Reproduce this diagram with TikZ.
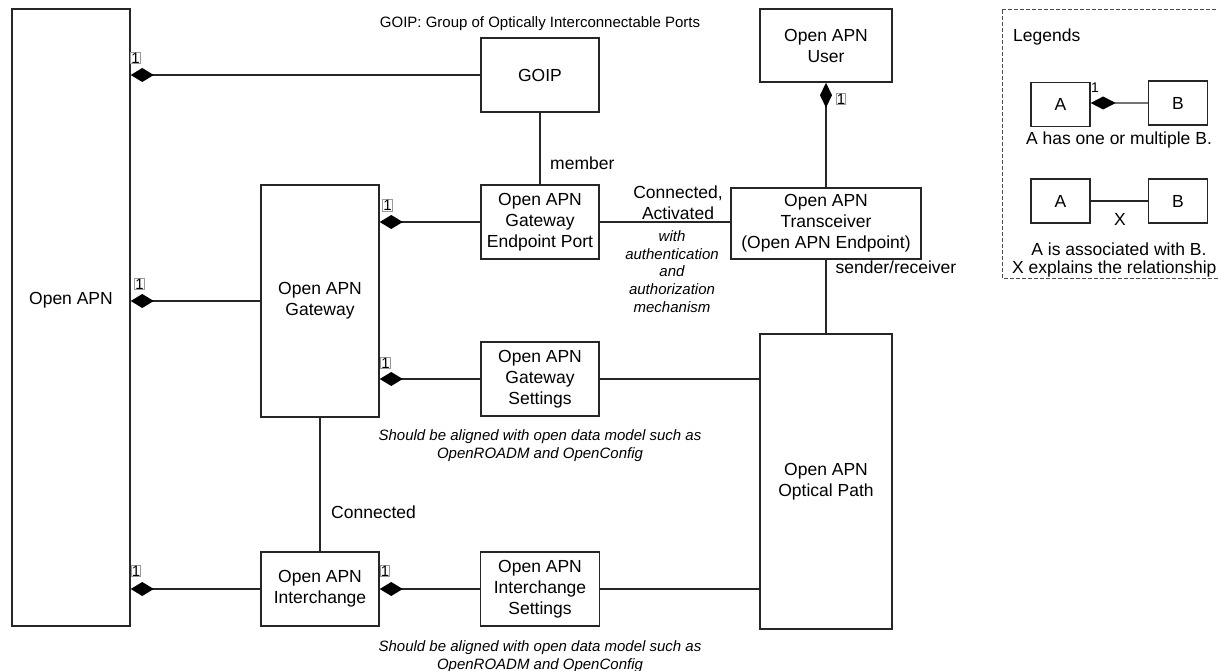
\documentclass[tikz,border=0pt]{standalone}
\usepackage{fontspec}
\setmainfont{Liberation Sans}
\usetikzlibrary{arrows.meta}
\newcommand\mainfnt{\fontsize{17.5}{21}\selectfont}
\newcommand\notefnt{\fontsize{15}{17.5}\selectfont\itshape}
\newcommand\titlefnt{\fontsize{15}{17.5}\selectfont}
\begin{document}
\begin{tikzpicture}[x=1pt,y=-1pt,
  box/.style={draw=black!85, line width=1.5pt, fill=white, align=center, inner sep=0pt, font=\mainfnt},
  conn/.style={draw=black!85, line width=1.6pt},
  comp/.style={conn, {Diamond[length=23pt,width=14pt,fill=black,color=black]}-},
  compv/.style={conn, {Diamond[length=25pt,width=12pt,fill=black,color=black]}-},
  mult/.style={draw=black!40, line width=0.6pt, fill=white, inner sep=0.6pt, font=\fontsize{15}{15}\selectfont},
  lbl/.style={font=\mainfnt, align=center, inner sep=0pt},
  note/.style={font=\notefnt, align=center, inner sep=0pt},
  legbox/.style={draw=black!85, line width=1.3pt, fill=white, font=\mainfnt, inner sep=0pt, minimum width=59pt, minimum height=44pt},
]
\useasboundingbox (0,0) rectangle (1218,671);
\clip (0,0) rectangle (1218,671);
\fill[white] (0,0) rectangle (1218,671);

% main boxes
\node[box, minimum width=118pt, minimum height=617pt] (open) at (71,317.5) {};
\node[lbl] (opentxt) at (71,300) {Open APN};
\node[box, minimum width=118pt, minimum height=74pt] (goip) at (540,75) {GOIP};
\node[box, minimum width=118pt, minimum height=74pt] (gep) at (540,222) {Open APN\\Gateway\\Endpoint Port};
\node[box, minimum width=118pt, minimum height=232pt] (gw) at (320,301) {Open APN\\Gateway};
\node[box, minimum width=118pt, minimum height=74pt] (gws) at (540,379) {Open APN\\Gateway\\Settings};
\node[box, minimum width=118pt, minimum height=74pt] (ic) at (320,589) {Open APN\\Interchange};
\node[box, minimum width=119pt, minimum height=74pt] (is) at (540,589) {Open APN\\Interchange\\Settings};
\node[box, minimum width=132pt, minimum height=73pt] (user) at (826,45.5) {Open APN\\User};
\node[box, minimum width=190pt, minimum height=71pt] (tr) at (826,223.5) {Open APN\\Transceiver\\(Open APN Endpoint)};
\node[box, minimum width=132pt, minimum height=295pt] (op) at (826,481.5) {Open APN\\Optical Path};

% connectors
\draw[comp] (open.east |- goip.west) -- (goip.west);
\draw[comp] (open.east |- gw.west) -- (gw.west);
\draw[comp] (open.east |- ic.west) -- (ic.west);
\draw[comp] (gw.east |- gep.west) -- (gep.west);
\draw[comp] (gw.east |- gws.west) -- (gws.west);
\draw[comp] (ic.east) -- (is.west);
\draw[compv] (user.south) -- (user.south |- tr.north);
\draw[conn] (goip.south) -- (gep.north);
\draw[conn] (gep.east) -- (gep.east -| tr.west);
\draw[conn] (tr.south) -- (tr.south |- op.north);
\draw[conn] (gws.east) -- (gws.east -| op.west);
\draw[conn] (is.east) -- (is.east -| op.west);
\draw[conn] (gw.south) -- (ic.north);

% multiplicities
\node[mult] (m1) at (135.5,58) {1};
\node[mult] (m2) at (139.5,284) {1};
\node[mult] (m3) at (387.5,205.5) {1};
\node[mult] (m4) at (385.5,363) {1};
\node[mult] (m5) at (136,571) {1};
\node[mult] (m6) at (385,571) {1};
\node[mult] (m7) at (841,99) {1};

% labels
\node[font=\titlefnt, inner sep=0pt] (title) at (540,24) {GOIP: Group of Optically Interconnectable Ports};
\node[lbl, anchor=west] (member) at (550,163) {member};
\node[lbl] (connact) at (678,202.5) {Connected,\\Activated};
\node[note, font=\fontsize{15}{17.8}\selectfont\itshape] (auth) at (672,271.5) {with\\authentication\\and\\authorization\\mechanism};
\node[lbl] (sr) at (896,267) {sender/receiver};
\node[lbl, anchor=west] (connected) at (331,512) {Connected};
\node[note] (note1) at (540,445.5) {Should be aligned with open data model such as\\OpenROADM and OpenConfig};
\node[note] (note2) at (540,656.5) {Should be aligned with open data model such as\\OpenROADM and OpenConfig};

% legend
\draw[black!70, line width=1pt, dash pattern=on 4pt off 2pt] (1002,10) rectangle (1240,278);
\node[lbl, anchor=west] (legtitle) at (1013,37) {Legends};
\node[legbox] (la1) at (1060.5,104.5) {A};
\node[legbox] (lb1) at (1178,103) {B};
\draw[draw=black!55, line width=2.2pt, {Diamond[length=25pt,width=13pt,fill=black,color=black]}-] (la1.east |- lb1.west) -- (lb1.west);
\node[font=\fontsize{14}{14}\selectfont, inner sep=0pt] (l1) at (1095,88) {1};
\node[lbl] (lt1) at (1119,140) {A has one or multiple B.};
\node[legbox] (la2) at (1060.5,201) {A};
\node[legbox] (lb2) at (1178,201) {B};
\draw[conn] (la2.east) -- (lb2.west);
\node[lbl] (lx) at (1120,219) {X};
\node[lbl] (lt2) at (1119,249) {A is associated with B.};
\node[lbl, anchor=west] (lt3) at (1012,268.5) {X explains the relationship};
\end{tikzpicture}
\end{document}
